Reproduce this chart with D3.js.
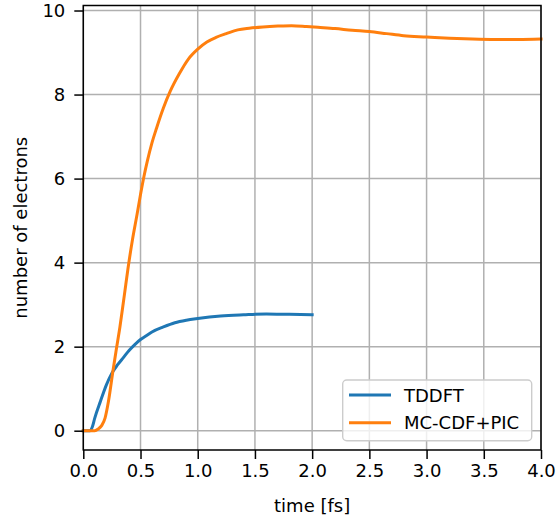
<!DOCTYPE html>
<html>
<head>
<meta charset="utf-8">
<script src="https://cdn.jsdelivr.net/npm/d3@7"></script>
<style>
  html, body { margin: 0; padding: 0; background: #fff; }
  svg { display: block; font-family: "DejaVu Sans", sans-serif; }
</style>
</head>
<body>
<svg id="chart" width="556" height="516"></svg>
<script>
// ---- data ----
const seriesNames = ["TDDFT", "MC-CDF+PIC"];
const tddftTime = [0, 0.06, 0.08, 0.1, 0.15, 0.2, 0.25, 0.3, 0.35, 0.4, 0.45, 0.5, 0.55, 0.6, 0.7, 0.8, 0.9, 1.0, 1.2, 1.4, 1.6, 1.8, 2.0];
const tddftValue = [0, 0, 0.1, 0.3, 0.7, 1.08, 1.37, 1.57, 1.74, 1.91, 2.05, 2.17, 2.26, 2.35, 2.47, 2.57, 2.63, 2.67, 2.73, 2.76, 2.78, 2.77, 2.76];
const mcTime = [0, 0.1, 0.13, 0.16, 0.19, 0.22, 0.26, 0.29, 0.32, 0.36, 0.39, 0.43, 0.47, 0.5, 0.53, 0.56, 0.6, 0.64, 0.7, 0.76, 0.84, 0.92, 1.0, 1.08, 1.16, 1.25, 1.35, 1.45, 1.57, 1.7, 1.82, 1.95, 2.05, 2.2, 2.35, 2.5, 2.65, 2.8, 3.0, 3.2, 3.4, 3.6, 3.8, 4.0];
const mcValue = [0, 0, 0.04, 0.12, 0.3, 0.7, 1.44, 1.96, 2.47, 3.25, 3.85, 4.55, 5.15, 5.62, 6.05, 6.42, 6.85, 7.2, 7.68, 8.08, 8.5, 8.85, 9.08, 9.25, 9.36, 9.45, 9.54, 9.58, 9.61, 9.63, 9.64, 9.62, 9.6, 9.57, 9.53, 9.5, 9.45, 9.4, 9.37, 9.34, 9.32, 9.31, 9.31, 9.32];
const xTicks = [0, 0.5, 1.0, 1.5, 2.0, 2.5, 3.0, 3.5, 4.0];
const yTicks = [0, 2, 4, 6, 8, 10];
const xLabel = "time [fs]";
const yLabel = "number of electrons";
const colors = ["#1f77b4", "#ff7f0e"];

// ---- layout ----
const mLeft = 83.3, mRight = 541, mTop = 5.5, mBottom = 450;
const svg = d3.select("#chart");
const x = d3.scaleLinear().domain([0, 4]).range([mLeft, mRight]);
const y = d3.scaleLinear().domain([-0.4593, 10.1193]).range([mBottom, mTop]);
const FS = 18;

// grid
const grid = svg.append("g");
grid.selectAll(".gx").data(xTicks).join("line")
  .attr("x1", d => x(d)).attr("x2", d => x(d)).attr("y1", mTop).attr("y2", mBottom)
  .attr("stroke", "#b0b0b0").attr("stroke-width", 1.5);
grid.selectAll(".gy").data(yTicks).join("line")
  .attr("x1", mLeft).attr("x2", mRight).attr("y1", d => y(d)).attr("y2", d => y(d))
  .attr("stroke", "#b0b0b0").attr("stroke-width", 1.5);

// lines
const line = d3.line().x(d => x(d[0])).y(d => y(d[1])).curve(d3.curveMonotoneX);
const series = [
  d3.zip(tddftTime, tddftValue),
  d3.zip(mcTime, mcValue)
];
series.forEach((s, i) => {
  svg.append("path").datum(s).attr("d", line)
    .attr("fill", "none").attr("stroke", colors[i]).attr("stroke-width", 3)
    .attr("stroke-linejoin", "round").attr("stroke-linecap", "square");
});

// axes
const xAxis = d3.axisBottom(x).tickValues(xTicks).tickFormat(d3.format(".1f")).tickSize(9).tickPadding(5);
const yAxis = d3.axisLeft(y).tickValues(yTicks).tickFormat(d3.format("d")).tickSize(9).tickPadding(9);
const gx = svg.append("g").attr("transform", `translate(0,${mBottom})`).call(xAxis);
const gy = svg.append("g").attr("transform", `translate(${mLeft},0)`).call(yAxis);
[gx, gy].forEach(g => {
  g.select(".domain").remove();
  g.selectAll(".tick line").attr("stroke", "#000").attr("stroke-width", 1.5);
  g.selectAll(".tick text").attr("fill", "#000").style("font-size", FS + "px")
    .style("font-family", "'DejaVu Sans', sans-serif");
});

// frame (spines)
svg.append("rect").attr("x", mLeft).attr("y", mTop).attr("width", mRight - mLeft).attr("height", mBottom - mTop)
  .attr("fill", "none").attr("stroke", "#000").attr("stroke-width", 1.5);

// axis labels
svg.append("text").attr("x", (mLeft + mRight) / 2).attr("y", 512).attr("text-anchor", "middle")
  .style("font-size", FS + "px").text(xLabel);
svg.append("text").attr("transform", `translate(27,${(mTop + mBottom) / 2}) rotate(-90)`)
  .attr("text-anchor", "middle").style("font-size", FS + "px").text(yLabel);

// legend
const lg = svg.append("g");
lg.append("rect").attr("x", 342.7).attr("y", 380).attr("width", 189).attr("height", 60.7)
  .attr("rx", 4).attr("fill", "#fff").attr("fill-opacity", 0.8)
  .attr("stroke", "#cccccc").attr("stroke-width", 1.4);
seriesNames.forEach((n, i) => {
  const ly = 395 + i * 27.7;
  lg.append("line").attr("x1", 349).attr("x2", 391).attr("y1", ly).attr("y2", ly)
    .attr("stroke", colors[i]).attr("stroke-width", 3);
  lg.append("text").attr("x", 404).attr("y", ly + 6.5).style("font-size", FS + "px").text(n);
});
</script>
</body>
</html>
